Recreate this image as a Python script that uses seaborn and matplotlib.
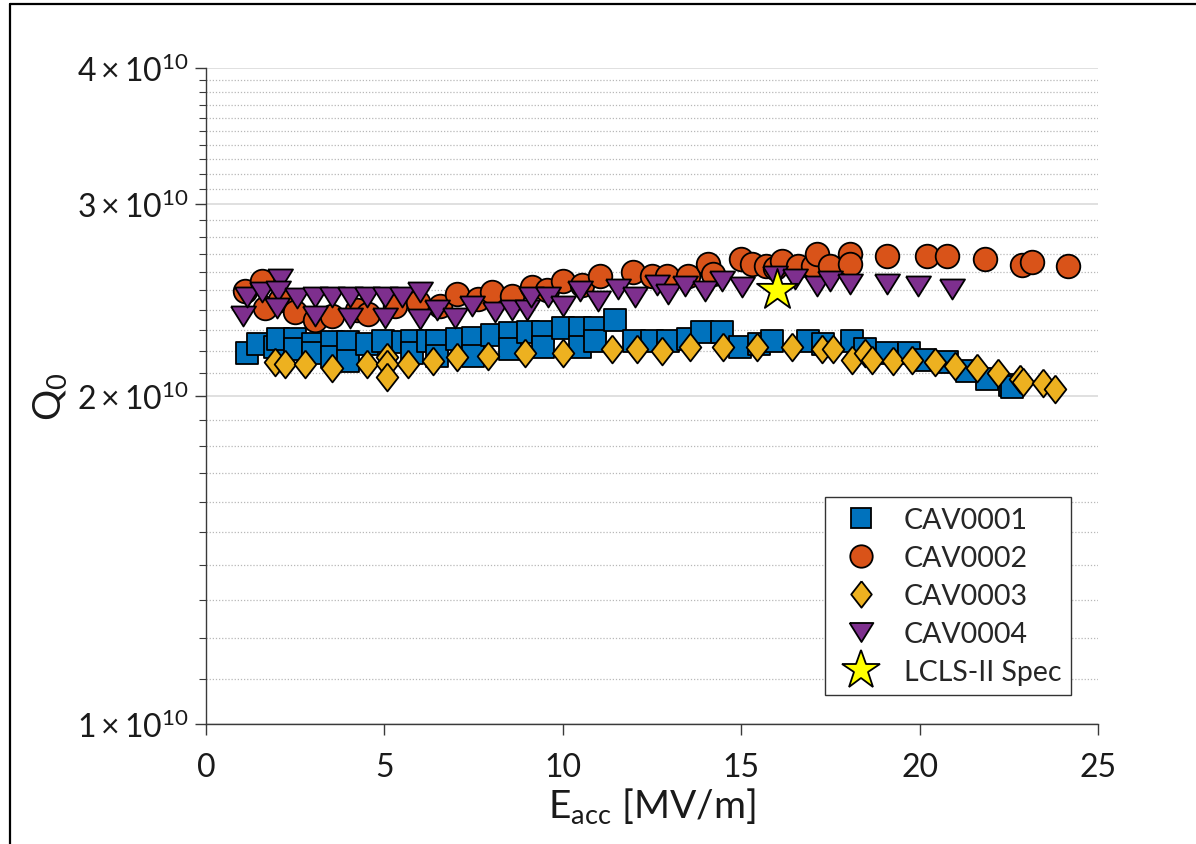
import numpy as np
import pandas as pd
import matplotlib
matplotlib.use("Agg")
import matplotlib.pyplot as plt
import seaborn as sns
from matplotlib.lines import Line2D
from matplotlib.markers import MarkerStyle
from matplotlib.ticker import FixedLocator, NullFormatter, FixedFormatter

# ---------------- data (E_acc in MV/m, Q0 in units of 1e10) ----------------
e_cav1 = [1.14, 1.47, 1.93, 2.02, 2.49, 2.49, 3.0, 3.0, 3.53, 3.53, 3.98, 3.98,
          4.51, 4.96, 5.52, 5.77, 5.77, 6.22, 6.47, 6.47, 7.03, 7.49, 7.49,
          8.02, 8.52, 8.52, 9.02, 9.45, 9.45, 10.0, 10.48, 10.48, 10.9, 10.9,
          11.46, 12.0, 12.5, 12.95, 13.5, 13.9, 14.46, 14.97, 15.5, 15.86, 16.87,
          17.3, 18.1, 18.47, 19.1, 19.7, 20.15, 20.77, 21.33, 21.9, 22.53, 22.6]
q_cav1 = [2.19, 2.23, 2.22, 2.256, 2.256, 2.21, 2.23, 2.19, 2.24, 2.17, 2.24, 2.155,
          2.23, 2.245, 2.24, 2.245, 2.19, 2.245, 2.245, 2.175, 2.256, 2.26, 2.175,
          2.275, 2.285, 2.21, 2.29, 2.29, 2.22, 2.31, 2.31, 2.22, 2.31, 2.245,
          2.35, 2.245, 2.245, 2.245, 2.256, 2.29, 2.29, 2.22, 2.23, 2.245, 2.245,
          2.23, 2.245, 2.21, 2.19, 2.19, 2.16, 2.15, 2.11, 2.074, 2.045, 2.04]

e_cav2 = [1.09, 1.57, 1.65, 2.07, 2.49, 3.05, 3.53, 4.23, 4.54, 5.3, 5.94, 6.56,
          7.03, 7.62, 8.02, 8.58, 9.14, 9.56, 10.0, 10.54, 11.04, 11.97, 12.5,
          12.92, 13.5, 14.07, 14.2, 15.0, 15.3, 15.7, 15.95, 16.14, 16.6, 17.0,
          17.12, 17.5, 18.05, 18.05, 19.1, 20.2, 20.77, 21.83, 22.87, 23.15, 24.16]
q_cav2 = [2.497, 2.55, 2.41, 2.45, 2.39, 2.35, 2.37, 2.40, 2.38, 2.42, 2.44, 2.42,
          2.48, 2.455, 2.49, 2.47, 2.52, 2.50, 2.55, 2.53, 2.58, 2.60, 2.58,
          2.575, 2.575, 2.645, 2.59, 2.67, 2.645, 2.635, 2.62, 2.66, 2.635, 2.635,
          2.70, 2.635, 2.70, 2.645, 2.69, 2.69, 2.69, 2.672, 2.64, 2.655, 2.63]

e_cav3 = [1.93, 2.21, 2.77, 3.53, 4.51, 5.07, 5.07, 5.07, 5.66, 6.36, 7.03, 7.9,
          8.94, 10.0, 11.38, 12.08, 12.78, 13.56, 14.49, 15.44, 16.42, 17.26,
          17.57, 18.1, 18.47, 18.67, 19.25, 19.8, 20.43, 20.99, 21.6, 22.2, 22.8,
          22.9, 23.46, 23.8]
q_cav3 = [2.15, 2.14, 2.14, 2.12, 2.14, 2.17, 2.14, 2.08, 2.14, 2.155, 2.17, 2.175,
          2.19, 2.19, 2.21, 2.21, 2.20, 2.22, 2.22, 2.22, 2.22, 2.21,
          2.21, 2.16, 2.19, 2.16, 2.155, 2.16, 2.15, 2.13, 2.12, 2.10, 2.074,
          2.06, 2.055, 2.03]

e_cav4 = [1.04, 1.15, 1.57, 2.07, 2.02, 1.99, 2.55, 3.05, 3.05, 3.53, 4.04, 4.04,
          4.51, 5.02, 5.02, 5.5, 6.0, 6.0, 6.47, 6.98, 7.46, 8.1, 8.58, 9.0, 9.1,
          9.58, 10.0, 10.48, 10.99, 11.55, 12.02, 12.64, 12.95, 13.42, 13.98,
          14.46, 15.02, 15.95, 16.5, 17.12, 17.49, 18.05, 19.09, 19.95, 20.9]
q_cav4 = [2.37, 2.465, 2.49, 2.56, 2.497, 2.41, 2.46, 2.465, 2.37, 2.465, 2.465, 2.36,
          2.465, 2.465, 2.36, 2.465, 2.49, 2.355, 2.40, 2.36, 2.42, 2.39, 2.40, 2.40, 2.465,
          2.465, 2.42, 2.497, 2.445, 2.51, 2.465, 2.53, 2.48, 2.525, 2.497,
          2.55, 2.52, 2.575, 2.56, 2.525, 2.55, 2.535, 2.535, 2.525, 2.51]

e_spec = [16.0]
q_spec = [2.5]

series_names = ["CAV0001", "CAV0002", "CAV0003", "CAV0004", "LCLS-II Spec"]
x_ticks = [0, 5, 10, 15, 20, 25]
y_major = [1, 2, 3, 4]
y_major_labels = [r"$\mathregular{1\times10^{10}}$", r"$\mathregular{2\times10^{10}}$",
                  r"$\mathregular{3\times10^{10}}$", r"$\mathregular{4\times10^{10}}$"]

# ---------------- style ----------------
sns.set_theme(style="white")
plt.rcParams['font.family'] = ['Lato', 'DejaVu Sans']
plt.rcParams['mathtext.fontset'] = 'custom'
plt.rcParams['mathtext.rm'] = 'Lato'
plt.rcParams['mathtext.it'] = 'Lato:italic'
plt.rcParams['mathtext.bf'] = 'Lato:bold'

colors = ["#0072BD", "#D95319", "#EDB120", "#7E2F8E", "#FFFF00"]
diamond = MarkerStyle([(0, 1), (0.78, 0), (0, -1), (-0.78, 0), (0, 1)])
tri_down = MarkerStyle([(-1, 0.8), (1, 0.8), (0, -0.8), (-1, 0.8)])
markers = ["s", "o", diamond, tri_down, "*"]
sizes = [15.5, 17.0, 20.0, 18.0, 31.0]   # marker sizes in points

fig = plt.figure(figsize=(11.96, 8.45), dpi=100)
ax = fig.add_axes([206 / 1196, 1 - 725 / 845, (1098 - 206) / 1196, (725 - 69) / 845])

xs = [e_cav1, e_cav2, e_cav3, e_cav4, e_spec]
ys = [q_cav1, q_cav2, q_cav3, q_cav4, q_spec]
for i, name in enumerate(series_names):
    df = pd.DataFrame({"E": xs[i], "Q": np.array(ys[i]) * 1e10})
    sns.scatterplot(data=df, x="E", y="Q", ax=ax, marker=markers[i], s=sizes[i] ** 2,
                    color=colors[i], edgecolor="black", linewidth=1.3, zorder=3 + i,
                    legend=False)

ax.set_yscale("log")
ax.set_xlim(0, 25)
ax.set_ylim(1e10, 4e10)
ax.xaxis.set_major_locator(FixedLocator(x_ticks))
ax.yaxis.set_major_locator(FixedLocator([v * 1e10 for v in y_major]))
ax.yaxis.set_major_formatter(FixedFormatter(y_major_labels))
minor_vals = [v / 10 * 1e10 for v in range(11, 40) if v % 10 != 0]
ax.yaxis.set_minor_locator(FixedLocator(minor_vals))
ax.yaxis.set_minor_formatter(NullFormatter())

ax.yaxis.grid(True, which="major", color="#dadada", lw=1.2, ls="-", zorder=0)
ax.yaxis.grid(True, which="minor", color="#b8b8b8", lw=0.9, ls=(0, (1, 1.5)), zorder=0)
ax.xaxis.grid(False)
ax.set_axisbelow(True)

for s in ["top", "right"]:
    ax.spines[s].set_visible(False)
for s in ["left", "bottom"]:
    ax.spines[s].set_color("#3a3a3a")
    ax.spines[s].set_linewidth(1.0)

ax.tick_params(axis="both", which="major", bottom=True, left=True, direction="out",
               length=8, width=1, color="#3a3a3a", labelsize=23, labelcolor="#1a1a1a")
ax.tick_params(axis="x", which="major", pad=12)
ax.tick_params(axis="y", which="major", pad=4)
ax.tick_params(axis="y", which="minor", left=True, direction="out", length=5, width=0.8,
               color="#3a3a3a")

ax.set_xlabel(r"$\mathregular{E_{acc}}$ [MV/m]", fontsize=28, color="#1a1a1a", labelpad=2)
ax.set_ylabel(r"$\mathregular{Q_0}$", fontsize=28, color="#1a1a1a", labelpad=6)

handles = [Line2D([], [], linestyle="None", marker=markers[i], markersize=sizes[i] * 0.95,
                  markerfacecolor=colors[i], markeredgecolor="black", markeredgewidth=1.3)
           for i in range(len(series_names))]
leg = ax.legend(handles, series_names, loc="lower right",
                bbox_to_anchor=((1071 - 206) / 892, (725 - 696) / 656),
                fontsize=20.5, frameon=True, fancybox=False, framealpha=1,
                edgecolor="#333333", labelspacing=0.42, handletextpad=0.6,
                borderpad=0.35, handlelength=1.8, borderaxespad=0)
leg.get_frame().set_linewidth(1.0)

# outer frame lines (left and top) like the reference
fig.add_artist(Line2D([10 / 1196, 10 / 1196], [0, 1 - 5 / 845], transform=fig.transFigure,
                      color="black", lw=1.6))
fig.add_artist(Line2D([10 / 1196, 1], [1 - 5 / 845, 1 - 5 / 845], transform=fig.transFigure,
                      color="black", lw=1.6))

fig.savefig("out.png", dpi=100)
